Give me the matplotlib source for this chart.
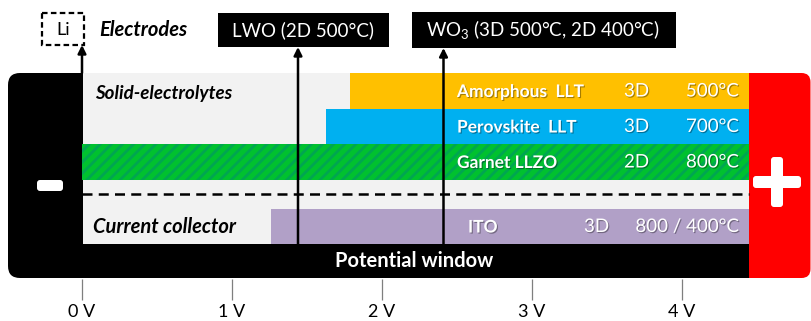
import matplotlib
matplotlib.use("Agg")
import matplotlib.pyplot as plt
from matplotlib.patches import Rectangle, FancyBboxPatch
import matplotlib.patheffects as pe

plt.rcParams['font.family'] = ['Lato', 'DejaVu Sans']
plt.rcParams['mathtext.fontset'] = 'custom'
plt.rcParams['mathtext.rm'] = 'Lato'
plt.rcParams['hatch.linewidth'] = 2.0

# Potential axis (volts)
tick_volts = [0, 1, 2, 3, 4]
tick_labels = ["0 V", "1 V", "2 V", "3 V", "4 V"]
window_max = 4.45

# Solid electrolytes: lower edge of stability window (V)
electrolyte_names = ["Amorphous  LLT", "Perovskite  LLT", "Garnet LLZO"]
electrolyte_onset = [1.79, 1.63, 0.0]
electrolyte_dim = ["3D", "3D", "2D"]
electrolyte_temp = ["500°C", "700°C", "800°C"]
electrolyte_colors = ["#FFC000", "#00B0F0", "#00C12F"]

# Current collector
collector_name = "ITO"
collector_onset = 1.26
collector_dim = "3D"
collector_temp = "800 / 400°C"

# Electrodes and their potentials (V)
electrode_names = ["Li", "LWO (2D 500°C)", r"WO$_\mathrm{3}$ (3D 500°C, 2D 400°C)"]
electrode_volts = [0.0, 1.44, 2.41]

PX_PER_V = 150.0
ORIGIN_PX = 82.0
W, H = 811, 321

fig = plt.figure(figsize=(W / 100, H / 100), dpi=100)

# Pixel-space layer for the battery frame and decorations
bg = fig.add_axes([0, 0, 1, 1])
bg.set_xlim(0, W)
bg.set_ylim(H, 0)
bg.axis('off')

bg.add_patch(FancyBboxPatch((8, 73), 760, 205, boxstyle="round,pad=0,rounding_size=12",
                            fc='black', ec='none'))
bg.add_patch(Rectangle((83, 73), 666, 171, fc='#F2F2F2', ec='none'))
bg.add_patch(FancyBboxPatch((749, 73), 61.5, 205, boxstyle="round,pad=0,rounding_size=9",
                            fc='#FF0000', ec='none'))
bg.add_patch(Rectangle((749, 73), 30, 205, fc='#FF0000', ec='none'))

# minus / plus terminals
bg.add_patch(FancyBboxPatch((37, 180), 26, 11, boxstyle="round,pad=0,rounding_size=3",
                            fc='white', ec='none'))
bg.add_patch(FancyBboxPatch((753, 176), 48, 12, boxstyle="round,pad=0,rounding_size=3",
                            fc='white', ec='none'))
bg.add_patch(FancyBboxPatch((771, 157), 12, 50, boxstyle="round,pad=0,rounding_size=3",
                            fc='white', ec='none'))

# electrode label boxes
bg.add_patch(Rectangle((42, 13), 42, 32, fill=False, ec='black', lw=1.6,
                       ls=(0, (2.5, 1.5))))
bg.text(63, 30, electrode_names[0], ha='center', va='center', fontsize=13, color='black')
bg.text(99, 30, "Electrodes", ha='left', va='center', fontsize=14.5,
        fontweight='bold', fontstyle='italic', color='black')
bg.add_patch(Rectangle((218, 13), 171, 34, fc='black', ec='none'))
bg.text(303.5, 30, electrode_names[1], ha='center', va='center', fontsize=13.5, color='white')
bg.add_patch(Rectangle((412, 12), 264, 36, fc='black', ec='none'))
bg.text(543, 30, electrode_names[2], ha='center', va='center', fontsize=13.5, color='white')

bg.text(95, 93, "Solid-electrolytes", ha='left', va='center', fontsize=13.5,
        fontweight='bold', fontstyle='italic', color='black')
bg.text(93, 227, "Current collector", ha='left', va='center', fontsize=14.5,
        fontweight='bold', fontstyle='italic', color='black')
bg.text(414, 261, "Potential window", ha='center', va='center', fontsize=14.5,
        fontweight='bold', color='white')

# Data layer: x in volts, y in pixel rows
ax = fig.add_axes([0, (H - 279) / H, 1, 279 / H])
ax.patch.set_visible(False)
ax.set_xlim(-ORIGIN_PX / PX_PER_V, (W - ORIGIN_PX) / PX_PER_V)
ax.set_ylim(279, 0)
for s in ax.spines.values():
    s.set_visible(False)
ax.set_yticks([])
ax.set_xticks(tick_volts, tick_labels)
ax.tick_params(axis='x', direction='out', length=15, width=0.9, color='#7F7F7F',
               pad=3, labelsize=13, labelcolor='black')

row_top = [73, 109, 144]
row_h = [36, 35, 36]
shadow = [pe.withSimplePatchShadow(offset=(0.8, -0.8), shadow_rgbFace='black', alpha=0.35)]

def vx(px):
    return (px - ORIGIN_PX) / PX_PER_V

for i, name in enumerate(electrolyte_names):
    yc = row_top[i] + row_h[i] / 2
    kw = dict(color=electrolyte_colors[i], linewidth=0)
    if name.startswith("Garnet"):
        kw = dict(facecolor=electrolyte_colors[i], edgecolor='#00A651', hatch='///', linewidth=0)
    ax.barh(yc, window_max - electrolyte_onset[i], left=electrolyte_onset[i],
            height=row_h[i], zorder=2, **kw)
    ax.text(vx(457), yc + 1, name, ha='left', va='center', fontsize=12.5,
            fontweight='bold', color='white', path_effects=shadow, zorder=5)
    ax.text(vx(624), yc, electrolyte_dim[i], ha='left', va='center', fontsize=13.5,
            color='white', path_effects=shadow, zorder=5)
    ax.text(vx(739), yc, electrolyte_temp[i], ha='right', va='center', fontsize=13.5,
            color='white', path_effects=shadow, zorder=5)

yc = 226.5
ax.barh(yc, window_max - collector_onset, left=collector_onset, height=35,
        color='#B1A0C7', linewidth=0, zorder=2)
ax.text(vx(468), yc + 1, collector_name, ha='left', va='center', fontsize=12.5,
        fontweight='bold', color='white', path_effects=shadow, zorder=5)
ax.text(vx(584), yc, collector_dim, ha='left', va='center', fontsize=13.5,
        color='white', path_effects=shadow, zorder=5)
ax.text(vx(739), yc, collector_temp, ha='right', va='center', fontsize=13.5,
        color='white', path_effects=shadow, zorder=5)

# separator between electrolytes and current collector
ax.hlines(194, 0, window_max, colors='black', lw=1.8, linestyles=(0, (4, 2.5)), zorder=3)

# electrode arrows
arrow_start = [73, 244, 244]
arrow_end = [45, 47, 48]
for v, y0, y1 in zip(electrode_volts, arrow_start, arrow_end):
    ax.annotate('', xy=(v, y1), xytext=(v, y0),
                arrowprops=dict(arrowstyle='-|>', color='black', lw=1.8,
                                mutation_scale=12, shrinkA=0, shrinkB=0),
                zorder=6)

fig.savefig("out.png", dpi=100)
